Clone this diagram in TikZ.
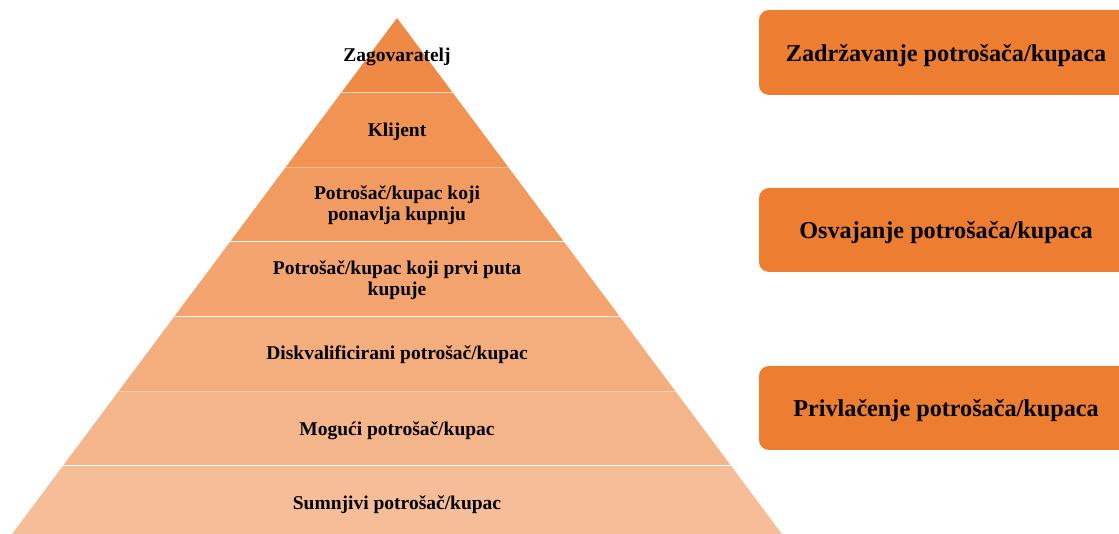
\documentclass[tikz,border=0pt]{standalone}
\usepackage{fontspec}
\setmainfont{Liberation Serif}
\definecolor{accent}{HTML}{ED7D31}
\tikzset{
  layer/.style={font=\bfseries\fontsize{19.5}{21}\selectfont, align=center, inner sep=0pt, yshift=-2.5pt},
  phase/.style={fill=accent, rounded corners=10pt, minimum width=374pt, minimum height=84pt,
    font=\bfseries\fontsize{24.2}{28}\selectfont, text depth=0pt}
}
\begin{document}
\begin{tikzpicture}[x=1pt,y=1pt]
\useasboundingbox (0,0) rectangle (1119,534);
\clip (0,0) rectangle (1119,534);
% pyramid: apex at (397,516), seven layers of equal height
\foreach \i in {0,...,6} {
  \pgfmathsetmacro\da{74.7*\i}
  \pgfmathsetmacro\db{74.7*(\i+1)}
  \pgfmathsetmacro\pct{90-20*\i/3}
  \fill[accent!\pct] (397-0.746*\da,516-\da) -- (397+0.746*\da,516-\da)
    -- (397+0.746*\db,516-\db) -- (397-0.746*\db,516-\db) -- cycle;
  \draw[white, line width=1.6pt] (397-0.746*\db,516-\db) -- (397+0.746*\db,516-\db);
}
\node[layer] (advocate) at (397,480) {Zagovaratelj};
\node[layer] (client) at (397,405) {Klijent};
\node[layer] (repeat) at (397,331) {Potrošač/kupac koji\\ponavlja kupnju};
\node[layer] (first) at (397,256) {Potrošač/kupac koji prvi puta\\kupuje};
\node[layer] (disq) at (397,182) {Diskvalificirani potrošač/kupac};
\node[layer] (prospect) at (397,106) {Mogući potrošač/kupac};
\node[layer] (suspect) at (397,32) {Sumnjivi potrošač/kupac};
% phases on the right
\node[phase, minimum height=85pt] (retain) at (946,481.5) {Zadržavanje potrošača/kupaca};
\node[phase] (win) at (946,304) {Osvajanje potrošača/kupaca};
\node[phase] (attract) at (946,126) {Privlačenje potrošača/kupaca};
\end{tikzpicture}
\end{document}
